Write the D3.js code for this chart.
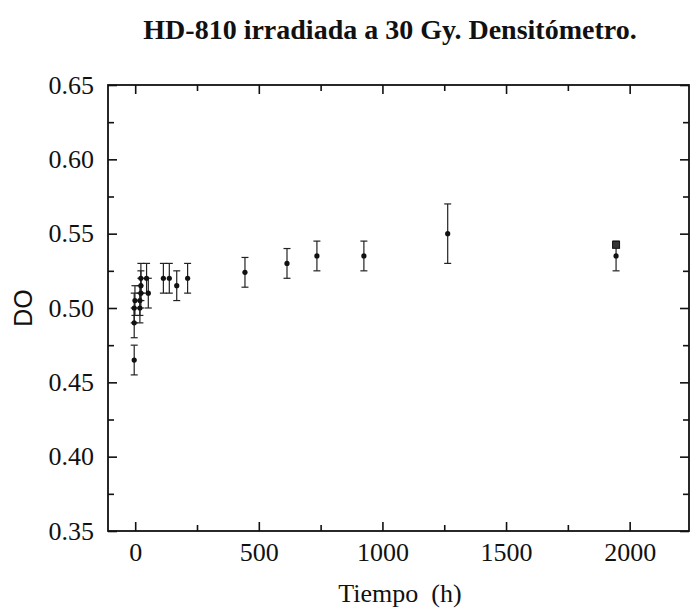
<!DOCTYPE html>
<html>
<head>
<meta charset="utf-8">
<script src="https://cdn.jsdelivr.net/npm/d3@7"></script>
<style>
  body { margin: 0; background: #fff; }
  svg { display: block; }
</style>
</head>
<body>
<svg id="chart" width="692" height="612"></svg>
<script>
// ---- data ----
const titleText = "HD-810 irradiada a 30 Gy. Densitómetro.";
const xLabel = "Tiempo  (h)";
const yLabel = "DO";
const times = [-4, -4, -4, -1, 19, 19, 23, 23, 23, 46, 53, 114, 138, 168, 212, 444, 614, 735, 925, 1264, 1945];
const doValues = [0.465, 0.49, 0.50, 0.505, 0.505, 0.50, 0.51, 0.515, 0.52, 0.52, 0.51, 0.52, 0.52, 0.515, 0.52, 0.524, 0.53, 0.535, 0.535, 0.55, 0.535];
const errors = [0.01, 0.01, 0.01, 0.01, 0.01, 0.01, 0.01, 0.01, 0.01, 0.01, 0.01, 0.01, 0.01, 0.01, 0.01, 0.01, 0.01, 0.01, 0.01, 0.02, 0.01];
const squareTimes = [1945];
const squareValues = [0.5425];
const xTicks = [0, 500, 1000, 1500, 2000];
const xMinorTicks = [250, 750, 1250, 1750];
const yTicks = [0.35, 0.40, 0.45, 0.50, 0.55, 0.60, 0.65];
const yMinorTicks = [0.375, 0.425, 0.475, 0.525, 0.575, 0.625];

// ---- layout ----
const L = 108, R = 689, T = 85, B = 531;
const svg = d3.select("#chart");
const x = d3.scaleLinear().domain([-110, 2240]).range([L, R]);
const y = d3.scaleLinear().domain([0.35, 0.65]).range([B, T]);
const serif = "'Liberation Serif', 'Times New Roman', serif";

// title
svg.append("text").attr("x", 390).attr("y", 39).attr("text-anchor", "middle")
  .style("font-family", serif).style("font-weight", "bold").style("font-size", "28px")
  .attr("fill", "#111")
  .text(titleText);

// axes (ticks inward)
function styleAxis(g) {
  g.select(".domain").remove();
  g.selectAll("line").attr("stroke", "#111").attr("stroke-width", 1.6);
}
const major = 9, minor = 6;
svg.append("g").attr("transform", `translate(0,${B})`)
  .call(d3.axisBottom(x).tickValues(xTicks).tickSize(-major).tickPadding(12).tickFormat(d3.format("d")))
  .call(styleAxis)
  .call(g => g.selectAll("text").style("font-family", serif).style("font-size", "26px").attr("fill", "#111"));
svg.append("g").attr("transform", `translate(0,${B})`)
  .call(d3.axisBottom(x).tickValues(xMinorTicks).tickSize(-minor).tickFormat(""))
  .call(styleAxis);
svg.append("g").attr("transform", `translate(0,${T})`)
  .call(d3.axisTop(x).tickValues(xTicks).tickSize(-major).tickFormat(""))
  .call(styleAxis);
svg.append("g").attr("transform", `translate(0,${T})`)
  .call(d3.axisTop(x).tickValues(xMinorTicks).tickSize(-minor).tickFormat(""))
  .call(styleAxis);
svg.append("g").attr("transform", `translate(${L},0)`)
  .call(d3.axisLeft(y).tickValues(yTicks).tickSize(-major).tickPadding(14).tickFormat(d3.format(".2f")))
  .call(styleAxis)
  .call(g => g.selectAll("text").style("font-family", serif).style("font-size", "26px").attr("fill", "#111"));
svg.append("g").attr("transform", `translate(${L},0)`)
  .call(d3.axisLeft(y).tickValues(yMinorTicks).tickSize(-minor).tickFormat(""))
  .call(styleAxis);
svg.append("g").attr("transform", `translate(${R},0)`)
  .call(d3.axisRight(y).tickValues(yTicks).tickSize(-major).tickFormat(""))
  .call(styleAxis);
svg.append("g").attr("transform", `translate(${R},0)`)
  .call(d3.axisRight(y).tickValues(yMinorTicks).tickSize(-minor).tickFormat(""))
  .call(styleAxis);

// frame
svg.append("rect").attr("x", L).attr("y", T).attr("width", R - L).attr("height", B - T)
  .attr("fill", "none").attr("stroke", "#111").attr("stroke-width", 1.8);

// axis labels
svg.append("text").attr("x", 400).attr("y", 602).attr("text-anchor", "middle")
  .style("font-family", serif).style("font-size", "26px").style("white-space", "pre").attr("fill", "#111")
  .text(xLabel);
svg.append("text").attr("transform", `translate(32,${(T + B) / 2}) rotate(-90)`).attr("text-anchor", "middle")
  .style("font-family", "'Liberation Sans', Arial, sans-serif").style("font-size", "25px").attr("fill", "#111")
  .text(yLabel);

// data
const pts = times.map((t, i) => ({ t, v: doValues[i], e: errors[i] }));
const cap = 3.5;
const eb = svg.append("g").attr("stroke", "#222").attr("stroke-width", 1.2);
pts.forEach(p => {
  const cx = x(p.t), y1 = y(p.v + p.e), y2 = y(p.v - p.e);
  eb.append("line").attr("x1", cx).attr("x2", cx).attr("y1", y1).attr("y2", y2);
  eb.append("line").attr("x1", cx - cap).attr("x2", cx + cap).attr("y1", y1).attr("y2", y1);
  eb.append("line").attr("x1", cx - cap).attr("x2", cx + cap).attr("y1", y2).attr("y2", y2);
});
svg.append("g").selectAll("circle").data(pts).join("circle")
  .attr("cx", d => x(d.t)).attr("cy", d => y(d.v)).attr("r", 2.6).attr("fill", "#111");
svg.append("g").selectAll("rect").data(squareTimes.map((t, i) => ({ t, v: squareValues[i] }))).join("rect")
  .attr("x", d => x(d.t) - 3.5).attr("y", d => y(d.v) - 3.5).attr("width", 7).attr("height", 7)
  .attr("fill", "#333").attr("stroke", "#111").attr("stroke-width", 1);
</script>
</body>
</html>
